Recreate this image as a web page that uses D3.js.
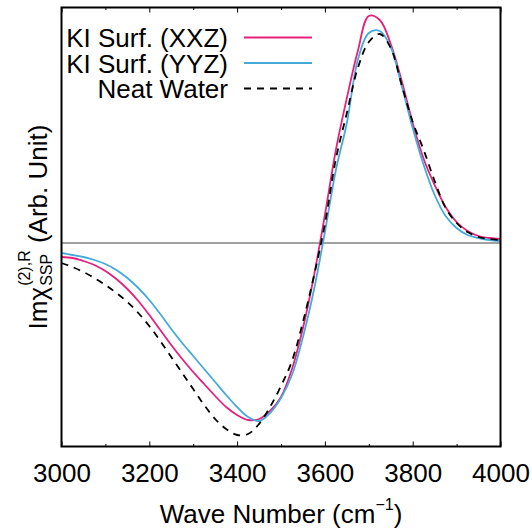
<!DOCTYPE html>
<html><head><meta charset="utf-8">
<script src="https://cdn.jsdelivr.net/npm/d3@7"></script>
<style>
body{margin:0;background:#fff}
svg{display:block}
text{font-family:"Liberation Sans",Arial,Helvetica,sans-serif;fill:#000;white-space:pre}
</style>
</head><body>
<svg id="chart" width="532" height="530"></svg>
<script>
// ---- data ----
const wavenumbers = [3000,3025,3050,3075,3100,3125,3150,3175,3200,3225,3250,3275,3300,3325,3350,3375,3400,3425,3450,3475,3500,3525,3550,3575,3600,3625,3650,3675,3700,3725,3750,3775,3800,3825,3850,3875,3900,3925,3950,3975,4000];
const xxzValues = [-14,-15,-18,-22,-28,-36,-46,-58,-72,-87,-102,-116,-129,-141,-153,-164,-172,-177,-176,-168,-154,-126,-85,-33,28,93,145,192,227,223,199,162,120,84,58,36,21,12,7,5,4];
const yyzValues = [-10,-12,-14,-17,-21,-27,-35,-45,-57,-71,-86,-100,-113,-126,-139,-152,-164,-174,-178,-170,-155,-132,-94,-47,11,73,120,183,210,212,196,157,115,78,48,27,15,8,5,3,2];
const neatWaterValues = [-20,-24,-29,-35,-42,-50,-59,-70,-83,-98,-114,-130,-146,-162,-176,-186,-192,-191,-181,-164,-143,-118,-79,-33,19,84,130,175,201,209,195,158,121,93,62,35,20,11,6,4,3];
const seriesNames = ["KI Surf. (XXZ)", "KI Surf. (YYZ)", "Neat Water"];
const seriesColors = ["#e5217a", "#45aad8", "#000000"];
const xMajorTicks = [3000,3200,3400,3600,3800,4000];
const xMinorTicks = [3100,3300,3500,3700,3900];

// ---- layout ----
const L = 61.5, R = 500.5, T = 7.5, B = 446.5;
const svg = d3.select("#chart");

const x = d3.scaleLinear().domain([3000, 4000]).range([L, R]);
const y = d3.scaleLinear().domain([-203.5, 235.5]).range([B, T]);

// zero line
svg.append("line")
  .attr("x1", x(3000)).attr("x2", x(4000))
  .attr("y1", y(0)).attr("y2", y(0))
  .attr("stroke", "#808080").attr("stroke-width", 1.6);

// curves
const series = [
  {name: seriesNames[0], values: xxzValues, color: seriesColors[0], dash: null},
  {name: seriesNames[1], values: yyzValues, color: seriesColors[1], dash: null},
  {name: seriesNames[2], values: neatWaterValues, color: seriesColors[2], dash: "7,6"}
];
const line = d3.line()
  .x((d, i) => x(wavenumbers[i]))
  .y(d => y(d))
  .curve(d3.curveCatmullRom.alpha(0.5));

svg.append("clipPath").attr("id", "clip")
  .append("rect").attr("x", L).attr("y", T).attr("width", R - L).attr("height", B - T);

series.forEach(s => {
  svg.append("path")
    .attr("clip-path", "url(#clip)")
    .attr("d", line(s.values))
    .attr("fill", "none")
    .attr("stroke", s.color)
    .attr("stroke-width", 1.8)
    .attr("stroke-dasharray", s.dash);
});

// axes: bottom (labels + inward ticks), top (inward ticks)
const bottomMajor = d3.axisBottom(x).tickValues(xMajorTicks).tickSize(-5).tickSizeOuter(0).tickPadding(17).tickFormat(d3.format("d"));
const bottomMinor = d3.axisBottom(x).tickValues(xMinorTicks).tickSize(-2.5).tickSizeOuter(0).tickFormat("");
const topMajor = d3.axisTop(x).tickValues(xMajorTicks).tickSize(-5).tickSizeOuter(0).tickFormat("");
const topMinor = d3.axisTop(x).tickValues(xMinorTicks).tickSize(-2.5).tickSizeOuter(0).tickFormat("");

function styleAxis(g) {
  g.select(".domain").remove();
  g.selectAll(".tick line").attr("stroke", "#000").attr("stroke-width", 1);
  g.selectAll(".tick text").attr("font-size", 26).attr("fill", "#000")
    .attr("font-family", '"Liberation Sans",Arial,Helvetica,sans-serif');
}
svg.append("g").attr("transform", `translate(0,${B})`).call(bottomMajor).call(styleAxis);
svg.append("g").attr("transform", `translate(0,${B})`).call(bottomMinor).call(styleAxis);
svg.append("g").attr("transform", `translate(0,${T})`).call(topMajor).call(styleAxis);
svg.append("g").attr("transform", `translate(0,${T})`).call(topMinor).call(styleAxis);

// frame
svg.append("rect")
  .attr("x", L).attr("y", T).attr("width", R - L).attr("height", B - T)
  .attr("fill", "none").attr("stroke", "#000").attr("stroke-width", 2);

// x label
const xl = svg.append("text")
  .attr("x", (L + R) / 2).attr("y", 523)
  .attr("text-anchor", "middle").attr("font-size", 26);
xl.append("tspan").text("Wave Number (cm");
xl.append("tspan").attr("font-size", 16).attr("dy", -13).text("\u22121");
xl.append("tspan").attr("dy", 13).text(")");

// y label (rotated, composed of pieces)
const yl = svg.append("g").attr("transform", `translate(47,${(T + B) / 2}) rotate(-90)`);
const yInner = yl.append("g");
const p1 = yInner.append("text").attr("font-size", 26).text("Im\u03c7");
const w1 = p1.node().getComputedTextLength();
const sup = yInner.append("text").attr("font-size", 16).attr("x", w1 + 1).attr("y", -17).text("(2),R");
const sub = yInner.append("text").attr("font-size", 16).attr("x", w1 + 1).attr("y", 5).text("SSP");
const w2 = Math.max(sup.node().getComputedTextLength(), sub.node().getComputedTextLength());
const p3 = yInner.append("text").attr("font-size", 26).attr("x", w1 + 1 + w2).text(" (Arb. Unit)");
const total = w1 + 1 + w2 + p3.node().getComputedTextLength();
yInner.attr("transform", `translate(${-total / 2},0)`);

// legend
const legendTextRight = 228, legendLineX1 = 244, legendLineX2 = 312;
const legendBaselines = [47, 72.5, 98];
series.forEach((s, i) => {
  svg.append("text")
    .attr("x", legendTextRight).attr("y", legendBaselines[i])
    .attr("text-anchor", "end").attr("font-size", 26).text(s.name);
  svg.append("line")
    .attr("x1", legendLineX1).attr("x2", legendLineX2)
    .attr("y1", legendBaselines[i] - 9.5).attr("y2", legendBaselines[i] - 9.5)
    .attr("stroke", s.color).attr("stroke-width", 1.8)
    .attr("stroke-dasharray", s.dash);
});
</script>
</body></html>
